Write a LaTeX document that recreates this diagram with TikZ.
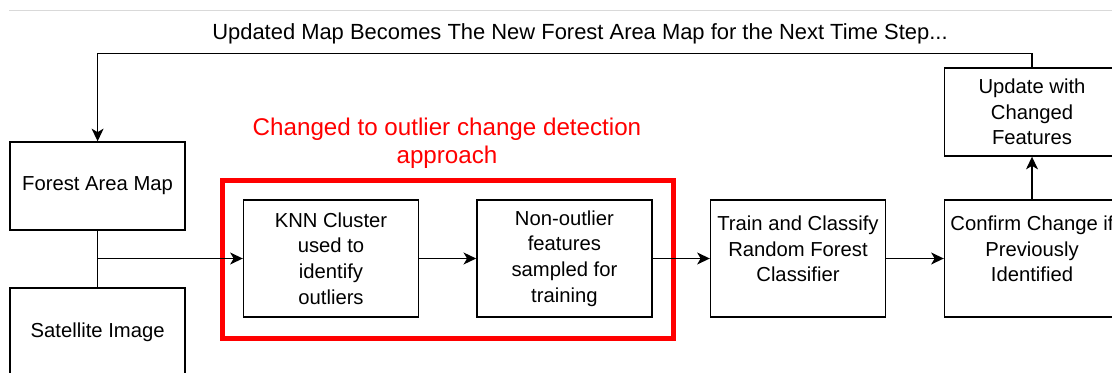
\documentclass[tikz,border=0pt]{standalone}
\usepackage{fontspec}
\setmainfont{Liberation Sans}
\usetikzlibrary{arrows.meta}

\begin{document}
\begin{tikzpicture}[
    stepbox/.style={rectangle, draw, line width=1pt, align=center, font=\fontsize{14.4}{18.2}\selectfont},
    smallbox/.style={stepbox, minimum width=4.375cm, minimum height=2.2cm},
    tallbox/.style={stepbox, minimum width=4.375cm, minimum height=2.925cm},
    flow/.style={-{Stealth[length=9pt, width=8.5pt, inset=2.5pt]}, line width=1pt}
]
    \useasboundingbox (0,0) rectangle (27.8,-9.325);

    % thin rule along the top
    \draw[gray!30, line width=0.7pt] (0.225,-0.25) -- (27.8,-0.25);

    % Inputs on the left
    \node[smallbox] (forest) at (2.44,-4.65) {Forest Area Map};
    \node[smallbox] (sat) at (2.44,-8.3) {Satellite Image};

    % Highlighted (changed) part of the pipeline
    \node[rectangle, draw=red, line width=3.6pt, minimum width=11.275cm, minimum height=3.95cm] (redbox) at (11.2,-6.4875) {};
    \node[text=red, align=center, font=\fontsize{17.2}{19.9}\selectfont] (redlabel) at (11.175,-3.57) {Changed to outlier change detection\\approach};

    \node[tallbox] (knn) at (8.275,-6.4625) {KNN Cluster\\used to\\identify\\outliers};
    \node[tallbox] (sample) at (14.11,-6.4625) {Non-outlier\\features\\sampled for\\training};

    % Classification and update
    \node[tallbox] (train) at (19.95,-6.4625) {Train and Classify\\Random Forest\\Classifier\\[-10pt]\strut};
    \node[tallbox] (confirm) at (25.8,-6.4625) {Confirm Change if\\Previously\\Identified\\[-10pt]\strut};
    \node[smallbox] (update) at (25.8,-2.8) {Update with\\Changed\\Features};

    \node[font=\fontsize{15.6}{18}\selectfont] (looplabel) at (14.5,-0.85) {Updated Map Becomes The New Forest Area Map for the Next Time Step...};

    % Connectors
    \coordinate (join) at (forest.south |- knn.west);
    \draw[line width=1pt] (forest.south) -- (sat.north);
    \draw[flow] (join) -- (knn.west);
    \draw[flow] (knn) -- (sample);
    \draw[flow] (sample) -- (train);
    \draw[flow] (train) -- (confirm);
    \draw[flow] (confirm) -- (update);
    \draw[flow] (update.north) -- ++(0,0.35) -| (forest.north);

\end{tikzpicture}
\end{document}
